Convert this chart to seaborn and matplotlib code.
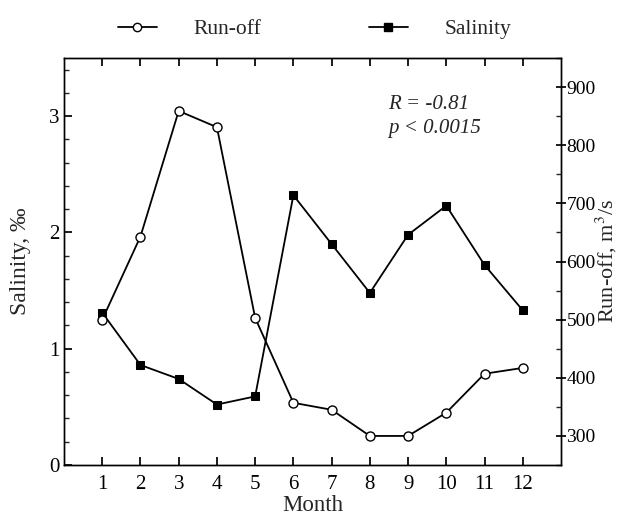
import matplotlib
matplotlib.use("Agg")
import matplotlib.pyplot as plt
import seaborn as sns
import pandas as pd
from matplotlib.ticker import MultipleLocator
from matplotlib.lines import Line2D

months = [1, 2, 3, 4, 5, 6, 7, 8, 9, 10, 11, 12]
salinity = [1.31, 0.86, 0.74, 0.52, 0.59, 2.32, 1.90, 1.48, 1.98, 2.23, 1.72, 1.33]
runoff = [500, 643, 859, 831, 503, 357, 345, 300, 300, 340, 407, 417]

sns.set_theme(style="ticks")
plt.rcParams['font.family'] = ['Liberation Serif', 'DejaVu Serif']
plt.rcParams['mathtext.fontset'] = 'stix'

df = pd.DataFrame({"Month": months, "Salinity": salinity, "Runoff": runoff})

fig = plt.figure(figsize=(6.19, 5.18), dpi=100)
ax = fig.add_axes([0.1034, 0.1023, 0.8029, 0.7857])
ax2 = ax.twinx()

sns.lineplot(data=df, x="Month", y="Salinity", ax=ax, color="black", lw=1.3,
             marker="s", markersize=6, markerfacecolor="black",
             markeredgecolor="black")
sns.lineplot(data=df, x="Month", y="Runoff", ax=ax2, color="black", lw=1.3,
             marker="o", markersize=6.5, markerfacecolor="white",
             markeredgecolor="black", markeredgewidth=1)

ax.set_xlim(0, 13)
ax.set_ylim(0, 3.5)
ax2.set_ylim(250, 950)
ax.set_xticks(months)
ax.yaxis.set_major_locator(MultipleLocator(1))
ax.yaxis.set_minor_locator(MultipleLocator(0.2))
ax2.yaxis.set_minor_locator(MultipleLocator(50))
ax2.set_yticks([300, 400, 500, 600, 700, 800, 900])

for a in (ax, ax2):
    for s in a.spines.values():
        s.set_visible(True)
        s.set_linewidth(1.0)
        s.set_color("black")

ax.tick_params(axis="x", which="both", direction="in", top=True, length=6,
               labelsize=15, colors="black", pad=7)
ax.tick_params(axis="y", which="major", direction="in", length=6,
               labelsize=15, colors="black", pad=3)
ax.tick_params(axis="y", which="minor", direction="in", length=3.5)
ax2.tick_params(axis="y", which="major", direction="inout", length=7,
                labelsize=14, colors="black", pad=0.5)
ax2.tick_params(axis="y", which="minor", direction="in", length=3.5)

ax.set_xlabel("Month", fontsize=16.5, labelpad=1)
ax.set_ylabel("Salinity, ‰", fontsize=17)
ax2.set_ylabel("Run-off, m$^3$/s", fontsize=16, rotation=90)
ax.yaxis.set_label_coords(-0.066, 0.5)
ax2.yaxis.set_label_coords(1.066, 0.5)

ax.text(0.652, 0.908, "R = -0.81\np < 0.0015", transform=ax.transAxes,
        fontsize=15, style="italic", va="top", ha="left", linespacing=1.35)

handles = [
    Line2D([], [], color="black", lw=1.3, marker="o", markersize=6,
           markerfacecolor="white", markeredgecolor="black"),
    Line2D([], [], color="black", lw=1.3, marker="s", markersize=5.5,
           markerfacecolor="black"),
]
fig.legend(handles, ["Run-off", "Salinity"], loc="center",
           bbox_to_anchor=(0.508, 0.944), ncol=2, frameon=False, fontsize=15.5,
           handlelength=1.8, handletextpad=1.7, columnspacing=5.0)

fig.savefig("out.png", dpi=100)
